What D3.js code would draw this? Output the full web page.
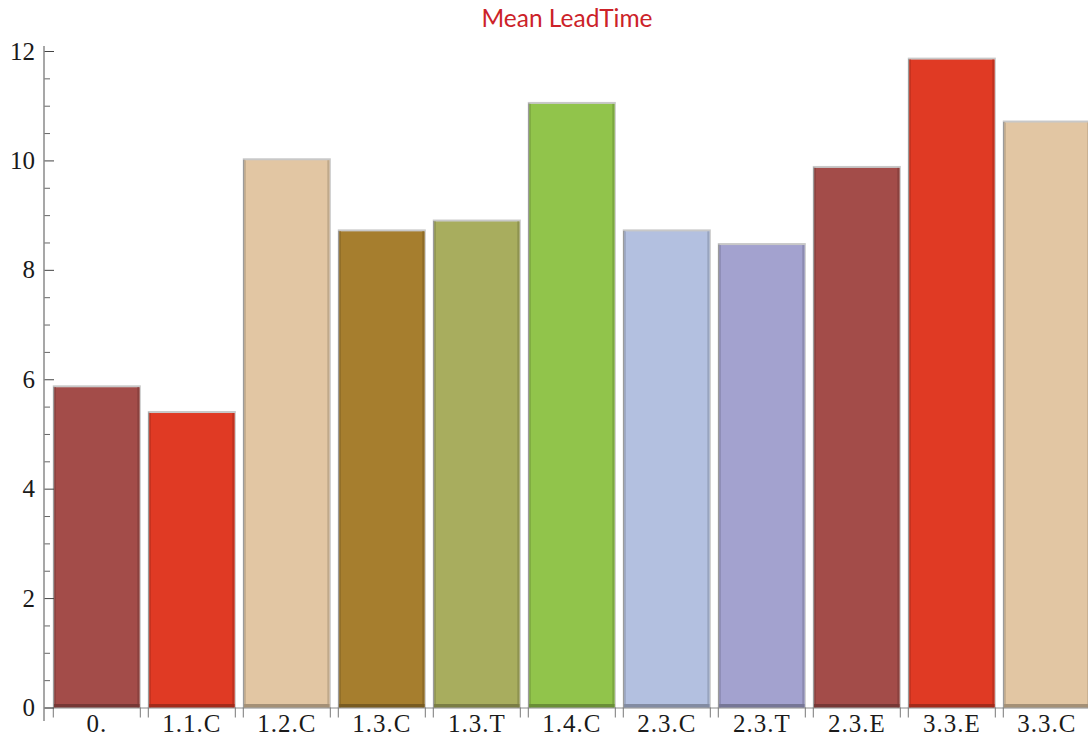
<!DOCTYPE html>
<html>
<head>
<meta charset="utf-8">
<script src="https://cdn.jsdelivr.net/npm/d3@7"></script>
<style>
  html, body { margin: 0; padding: 0; background: #fff; }
  svg { display: block; }
</style>
</head>
<body>
<svg id="chart" width="1088" height="736"></svg>
<script>
const categories = ["0.", "1.1.C", "1.2.C", "1.3.C", "1.3.T", "1.4.C", "2.3.C", "2.3.T", "2.3.E", "3.3.E", "3.3.C"];
const values = [5.88, 5.41, 10.03, 8.73, 8.91, 11.06, 8.73, 8.48, 9.89, 11.87, 10.72];
const palette = ["#a34c49", "#e03a24", "#e2c6a3", "#a67e2e", "#a8ad5e", "#91c44b", "#b3c0e0", "#a3a2cf", "#a34c49", "#e03a24", "#e2c6a3"];
const yMajorTicks = [0, 2, 4, 6, 8, 10, 12];
const titleText = "Mean LeadTime";

const svg = d3.select("#chart");
const W = 1088, H = 736;
const axisX = 44;

const x = d3.scaleBand()
  .domain(categories)
  .range([49.3, 49.3 + 95 * categories.length])
  .paddingInner(0.084)
  .paddingOuter(0.042);

const y = d3.scaleLinear().domain([0, 12]).range([707.5, 51]);

// Bars
const g = svg.append("g");
const bars = g.selectAll("g.bar").data(categories).join("g").attr("class", "bar");
bars.each(function(c, i) {
  const sel = d3.select(this);
  const bx = x(c), bw = x.bandwidth();
  const top = y(values[i]), bot = y(0);
  const col = d3.color(palette[i]);
  sel.append("rect")
    .attr("x", bx - 0.5).attr("y", top - 0.5)
    .attr("width", bw + 1).attr("height", bot - top + 1)
    .attr("fill", "#c8c8c8");
  sel.append("rect")
    .attr("x", bx + 0.8).attr("y", top + 1.5)
    .attr("width", bw - 1.6).attr("height", bot - top - 1.5)
    .attr("fill", col.formatHex());
  sel.append("rect")
    .attr("x", bx).attr("y", top + 1)
    .attr("width", 1.2).attr("height", bot - top - 1)
    .attr("fill", "#8a8a8a");
  sel.append("rect")
    .attr("x", bx + 1.2).attr("y", top + 1.5)
    .attr("width", 1.5).attr("height", bot - top - 1.5)
    .attr("fill", col.darker(0.35).formatHex());
  sel.append("rect")
    .attr("x", bx + bw - 3).attr("y", top + 1.5)
    .attr("width", 2).attr("height", bot - top - 1.5)
    .attr("fill", col.darker(0.45).formatHex());
  sel.append("rect")
    .attr("x", bx + 0.8).attr("y", bot - 3.5)
    .attr("width", bw - 1.6).attr("height", 3.5)
    .attr("fill", col.darker(0.9).formatHex());
});

// Horizontal base line
svg.append("line")
  .attr("x1", axisX).attr("x2", W)
  .attr("y1", y(0) + 0.5).attr("y2", y(0) + 0.5)
  .attr("stroke", "#8a8a8a").attr("stroke-width", 1);

// X ticks at bar edges
const edgeTicks = [];
categories.forEach(c => { edgeTicks.push(x(c)); edgeTicks.push(x(c) + x.bandwidth()); });
svg.append("g").selectAll("line").data(edgeTicks).join("line")
  .attr("x1", d => d).attr("x2", d => d)
  .attr("y1", y(0)).attr("y2", y(0) + 10)
  .attr("stroke", "#777").attr("stroke-width", 1);

// X labels via axis
const xAxis = svg.append("g")
  .attr("transform", `translate(0,${y(0)})`)
  .call(d3.axisBottom(x).tickSize(0).tickPadding(8));
xAxis.select(".domain").remove();
xAxis.selectAll("text")
  .attr("dy", null)
  .attr("y", 24.5)
  .attr("fill", "#1a1a1a")
  .style("font-family", "'Liberation Serif', 'DejaVu Serif', serif")
  .style("font-size", "25px")
  .style("letter-spacing", "1px");

// Y axis: minor ticks
const minorVals = d3.range(0, 12.01, 0.5).filter(v => v % 2 !== 0);
const yMinor = svg.append("g")
  .attr("transform", `translate(${axisX},0)`)
  .call(d3.axisLeft(y).tickValues(minorVals).tickSize(-6).tickFormat(""));
yMinor.select(".domain").remove();
yMinor.selectAll("line").attr("stroke", "#666");

// Y axis: major ticks and labels
const yAxis = svg.append("g")
  .attr("transform", `translate(${axisX},0)`)
  .call(d3.axisLeft(y).tickValues(yMajorTicks).tickSize(-10).tickPadding(9).tickFormat(d3.format("d")));
yAxis.select(".domain").remove();
yAxis.selectAll("line").attr("stroke", "#444");
yAxis.selectAll("text")
  .attr("fill", "#1a1a1a")
  .style("font-family", "'Liberation Serif', 'DejaVu Serif', serif")
  .style("font-size", "25px");

// Y axis line
svg.append("line")
  .attr("x1", axisX).attr("x2", axisX)
  .attr("y1", 46).attr("y2", 721)
  .attr("stroke", "#8a8a8a").attr("stroke-width", 1.5);

// Title
svg.append("text")
  .attr("x", 567).attr("y", 27)
  .attr("text-anchor", "middle")
  .attr("fill", "#cc2229")
  .style("font-family", "Lato, 'Open Sans', sans-serif")
  .style("font-size", "24.5px")
  .text(titleText);
</script>
</body>
</html>
